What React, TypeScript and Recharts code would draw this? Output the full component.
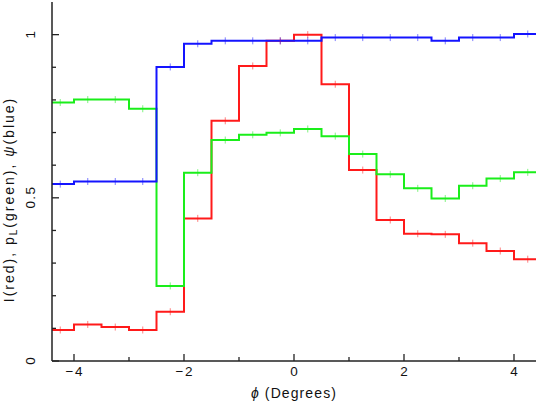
import React from 'react';
import { ComposedChart, Line, XAxis, YAxis } from 'recharts';

// Bin centres (degrees) and per-bin values
const phi = [-4.25, -3.75, -3.25, -2.75, -2.25, -1.75, -1.25, -0.75, -0.25, 0.25, 0.75, 1.25, 1.75, 2.25, 2.75, 3.25, 3.75, 4.25];
const intensity = [0.095, 0.112, 0.104, 0.095, 0.151, 0.437, 0.736, 0.904, 0.981, 1.0, 0.848, 0.585, 0.432, 0.39, 0.388, 0.361, 0.337, 0.312];
const polFrac = [0.792, 0.801, 0.801, 0.773, 0.23, 0.577, 0.677, 0.693, 0.699, 0.711, 0.689, 0.634, 0.572, 0.529, 0.498, 0.537, 0.559, 0.578];
const psi = [0.542, 0.55, 0.55, 0.55, 0.901, 0.972, 0.981, 0.981, 0.981, 0.981, 0.991, 0.991, 0.991, 0.991, 0.981, 0.991, 0.991, 1.002];
const binWidth = 0.5;

const xDomain = [-4.4, 4.4];
const yDomain = [0, 1.1];
const xTicks = [-4, -3, -2, -1, 0, 1, 2, 3, 4];
const xLabelled = [-4, -2, 0, 2, 4];
const yTicks = [0, 0.1, 0.2, 0.3, 0.4, 0.5, 0.6, 0.7, 0.8, 0.9, 1.0];
const yLabelled = [0, 0.5, 1];

const RED = '#ff1a1a';
const GREEN = '#1aee1a';
const BLUE = '#1414ff';
const AXIS = '#222';
const FONT = '"Liberation Sans", Arial, sans-serif';

const n = phi.length;
const rows = [
  { x: phi[0] - binWidth / 2, I: intensity[0], P: polFrac[0], Psi: psi[0], c: false },
  ...phi.map((x, i) => ({ x, I: intensity[i], P: polFrac[i], Psi: psi[i], c: true })),
  { x: phi[n - 1] + binWidth / 2, I: intensity[n - 1], P: polFrac[n - 1], Psi: psi[n - 1], c: false },
];

const MAJOR = 7;
const MINOR = 4;
const isMajor = (v: number, list: number[]) => list.some((m) => Math.abs(m - v) < 1e-9);
const fmt = (v: number) => (v < 0 ? '\u2212' + Math.abs(v) : String(v));

const BOTTOM_MARGIN = 5;
const LEFT_MARGIN = 5;
const TICK_FS = 13.5;
const TICK_LS = 1.4;

const BottomTick = (props: any) => {
  const { x, y, payload } = props;
  const axisY = y - BOTTOM_MARGIN;
  const major = isMajor(payload.value, xLabelled);
  return (
    <g>
      <line x1={x} x2={x} y1={axisY} y2={axisY - (major ? MAJOR : MINOR)} stroke={AXIS} strokeWidth={1.3} />
      {major && (
        <text x={x + TICK_LS / 2} y={axisY + 14.5} textAnchor="middle" fontSize={TICK_FS} letterSpacing={TICK_LS} fontFamily={FONT} fill="#111">
          {fmt(payload.value)}
        </text>
      )}
    </g>
  );
};

const TopTick = (props: any) => {
  const { x, y, payload } = props;
  const major = isMajor(payload.value, xLabelled);
  return <line x1={x} x2={x} y1={y} y2={y + (major ? MAJOR : MINOR)} stroke={AXIS} strokeWidth={1.3} />;
};

const LeftTick = (props: any) => {
  const { x, y, payload } = props;
  const axisX = x + LEFT_MARGIN;
  const major = isMajor(payload.value, yLabelled);
  const bx = axisX - 17;
  const yy = y - TICK_LS / 2;
  return (
    <g>
      <line x1={axisX} x2={axisX + (major ? MAJOR : MINOR)} y1={y} y2={y} stroke={AXIS} strokeWidth={1.3} />
      {major && (
        <text x={bx} y={yy} transform={`rotate(-90, ${bx}, ${yy})`} textAnchor="middle" fontSize={TICK_FS} letterSpacing={TICK_LS} fontFamily={FONT} fill="#111">
          {String(payload.value)}
        </text>
      )}
    </g>
  );
};

const RightTick = (props: any) => {
  const { x, y, payload } = props;
  const major = isMajor(payload.value, yLabelled);
  return <line x1={x} x2={x - (major ? MAJOR : MINOR)} y1={y} y2={y} stroke={AXIS} strokeWidth={1.3} />;
};

const makeDot = (color: string) => (props: any) => {
  const { cx, cy, payload, index } = props;
  if (!payload || !payload.c || cx == null || cy == null) return <g key={`d${index}`} />;
  return (
    <line key={`d${index}`} x1={cx} x2={cx} y1={cy - 3.5} y2={cy + 3.5} stroke={color} strokeWidth={1} opacity={0.55} />
  );
};

const XTitle = (props: any) => {
  const vb = props.viewBox || {};
  const cx = vb.x + vb.width / 2;
  const by = vb.y + 37;
  return (
    <text x={cx} y={by} textAnchor="middle" fontSize={14} letterSpacing={1.1} fontFamily={FONT} fill="#111">
      <tspan fontStyle="italic">ϕ</tspan>
      <tspan>{'\u00a0(Degrees)'}</tspan>
    </text>
  );
};

const YTitle = (props: any) => {
  const vb = props.viewBox || {};
  const bx = 14;
  const cy = vb.y + vb.height / 2 + 18;
  return (
    <text x={bx} y={cy} transform={`rotate(-90, ${bx}, ${cy})`} textAnchor="middle" fontSize={14} letterSpacing={2} fontFamily={FONT} fill="#111">
      <tspan>I(red),{'\u00a0'}p</tspan>
      <tspan fontSize={10} dy={3}>L</tspan>
      <tspan dy={-3}>(green),{'\u00a0'}</tspan>
      <tspan fontStyle="italic">ψ</tspan>
      <tspan>(blue)</tspan>
    </text>
  );
};

export default function App() {
  return (
    <div style={{ position: 'absolute', left: 0, top: 0, width: 538, height: 403, background: '#fff' }}>
      <ComposedChart width={538} height={403} data={rows} margin={{ top: 2, right: 2, bottom: 0, left: 0 }}>
        <XAxis
          xAxisId="b"
          dataKey="x"
          type="number"
          domain={xDomain}
          allowDataOverflow
          ticks={xTicks}
          interval={0}
          height={42}
          tickSize={0}
          tickMargin={BOTTOM_MARGIN}
          tick={BottomTick}
          tickLine={false}
          axisLine={{ stroke: AXIS, strokeWidth: 1.5 }}
          label={{ content: XTitle }}
        />
        <XAxis
          xAxisId="t"
          orientation="top"
          dataKey="x"
          type="number"
          domain={xDomain}
          allowDataOverflow
          ticks={xTicks}
          interval={0}
          height={0}
          tickSize={0}
          tickMargin={0}
          tick={TopTick}
          tickLine={false}
          axisLine={{ stroke: AXIS, strokeWidth: 1.5 }}
        />
        <YAxis
          yAxisId="l"
          type="number"
          domain={yDomain}
          allowDataOverflow
          ticks={yTicks}
          interval={0}
          width={52}
          tickSize={0}
          tickMargin={LEFT_MARGIN}
          tick={LeftTick}
          tickLine={false}
          axisLine={{ stroke: AXIS, strokeWidth: 1.5 }}
          label={{ content: YTitle }}
        />
        <YAxis
          yAxisId="r"
          orientation="right"
          type="number"
          domain={yDomain}
          allowDataOverflow
          ticks={yTicks}
          interval={0}
          width={0}
          tickSize={0}
          tickMargin={0}
          tick={RightTick}
          tickLine={false}
          axisLine={{ stroke: AXIS, strokeWidth: 1.5 }}
        />
        <Line xAxisId="b" yAxisId="l" type="step" dataKey="I" stroke={RED} strokeWidth={2} dot={makeDot(RED)} activeDot={false} isAnimationActive={false} />
        <Line xAxisId="b" yAxisId="l" type="step" dataKey="P" stroke={GREEN} strokeWidth={2} dot={makeDot(GREEN)} activeDot={false} isAnimationActive={false} />
        <Line xAxisId="b" yAxisId="l" type="step" dataKey="Psi" stroke={BLUE} strokeWidth={2} dot={makeDot(BLUE)} activeDot={false} isAnimationActive={false} />
      </ComposedChart>
    </div>
  );
}
